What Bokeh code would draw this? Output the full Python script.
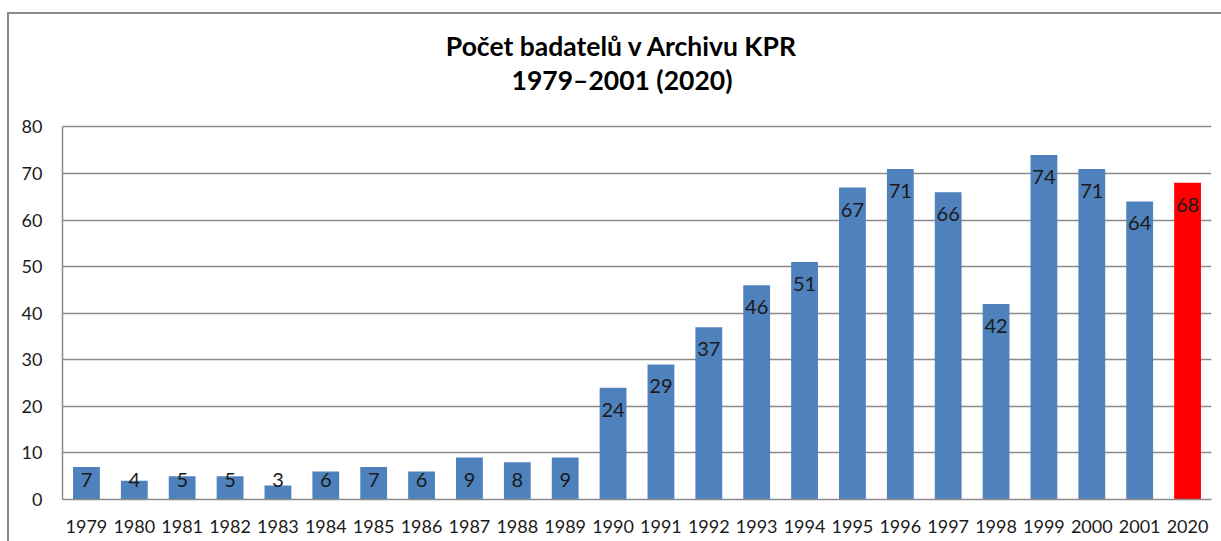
import numpy as np
from bokeh.plotting import figure
from bokeh.models import ColumnDataSource, FixedTicker, Range1d
from bokeh.core.properties import value
from bokeh.embed import file_html
from bokeh.resources import INLINE

# ---- data ----
years = ["1979", "1980", "1981", "1982", "1983", "1984", "1985", "1986", "1987",
         "1988", "1989", "1990", "1991", "1992", "1993", "1994", "1995", "1996",
         "1997", "1998", "1999", "2000", "2001", "2020"]
counts = [7, 4, 5, 5, 3, 6, 7, 6, 9, 8, 9, 24, 29, 37, 46, 51, 67, 71, 66, 42, 74, 71, 64, 68]
y_ticks = [0, 10, 20, 30, 40, 50, 60, 70, 80]
title_lines = ["Počet badatelů v Archivu KPR", "1979–2001 (2020)"]

BLUE = "#4F81BD"
RED = "#FF0000"
GRAY = "#8a8a8a"
colors = [RED if y == "2020" else BLUE for y in years]

src = ColumnDataSource(dict(
    x=years,
    top=counts,
    color=colors,
    label=[str(c) for c in counts],
    ly=list(np.maximum(np.array(counts, dtype=float), 9.0)),
))

Y_MAX = 80
Y_TOP = 104.16  # extra room above the value axis for the title

p = figure(x_range=years, y_range=Range1d(0, Y_TOP),
           width=1214, height=529, output_backend="svg", toolbar_location=None,
           min_border_left=53, min_border_right=12, min_border_top=0,
           min_border_bottom=44)
p.styles = {"border-left": f"2px solid {GRAY}", "border-top": f"2px solid {GRAY}",
            "margin-left": "7px", "margin-top": "12px"}
p.outline_line_color = None
p.background_fill_color = "white"
p.border_fill_color = "white"

p.vbar(x="x", top="top", width=0.56, fill_color="color", line_color=None, source=src)

p.text(x="x", y="ly", text="label", source=src, text_align="center",
       text_baseline="middle", y_offset=22, text_font=value("Lato"),
       text_font_size="20px", text_color="#1a1a1a")

# axes
p.yaxis.ticker = FixedTicker(ticks=y_ticks)
p.yaxis.bounds = (0, Y_MAX)
p.yaxis.axis_line_color = GRAY
p.yaxis.axis_line_width = 1.5
p.yaxis.major_tick_line_color = None
p.yaxis.major_tick_out = 0
p.yaxis.major_tick_in = 0
p.yaxis.minor_tick_line_color = None
p.yaxis.major_label_text_font = "Lato"
p.yaxis.major_label_text_font_size = "18px"
p.yaxis.major_label_text_color = "#1a1a1a"
p.yaxis.major_label_standoff = 20

p.xaxis.axis_line_color = GRAY
p.xaxis.axis_line_width = 1.5
p.xaxis.major_tick_line_color = None
p.xaxis.major_tick_out = 0
p.xaxis.major_tick_in = 0
p.xaxis.minor_tick_line_color = None
p.xaxis.major_label_text_font = "Lato"
p.xaxis.major_label_text_font_size = "18px"
p.xaxis.major_label_text_color = "#1a1a1a"
p.xaxis.major_label_standoff = 20

p.xgrid.grid_line_color = None
p.ygrid.ticker = FixedTicker(ticks=y_ticks)
p.ygrid.grid_line_color = GRAY
p.ygrid.grid_line_width = 1.5

# title (two lines), drawn inside the frame above the value area
n = len(years)
p.text(x=[n / 2, n / 2], y=[97.5, 90.0], text=title_lines, text_align="center",
       text_baseline="alphabetic", x_offset=-15, text_font=value("Lato"),
       text_font_style="bold", text_font_size="26.5px", text_color="#000000")

open("out.html", "w").write(file_html(p, INLINE))
